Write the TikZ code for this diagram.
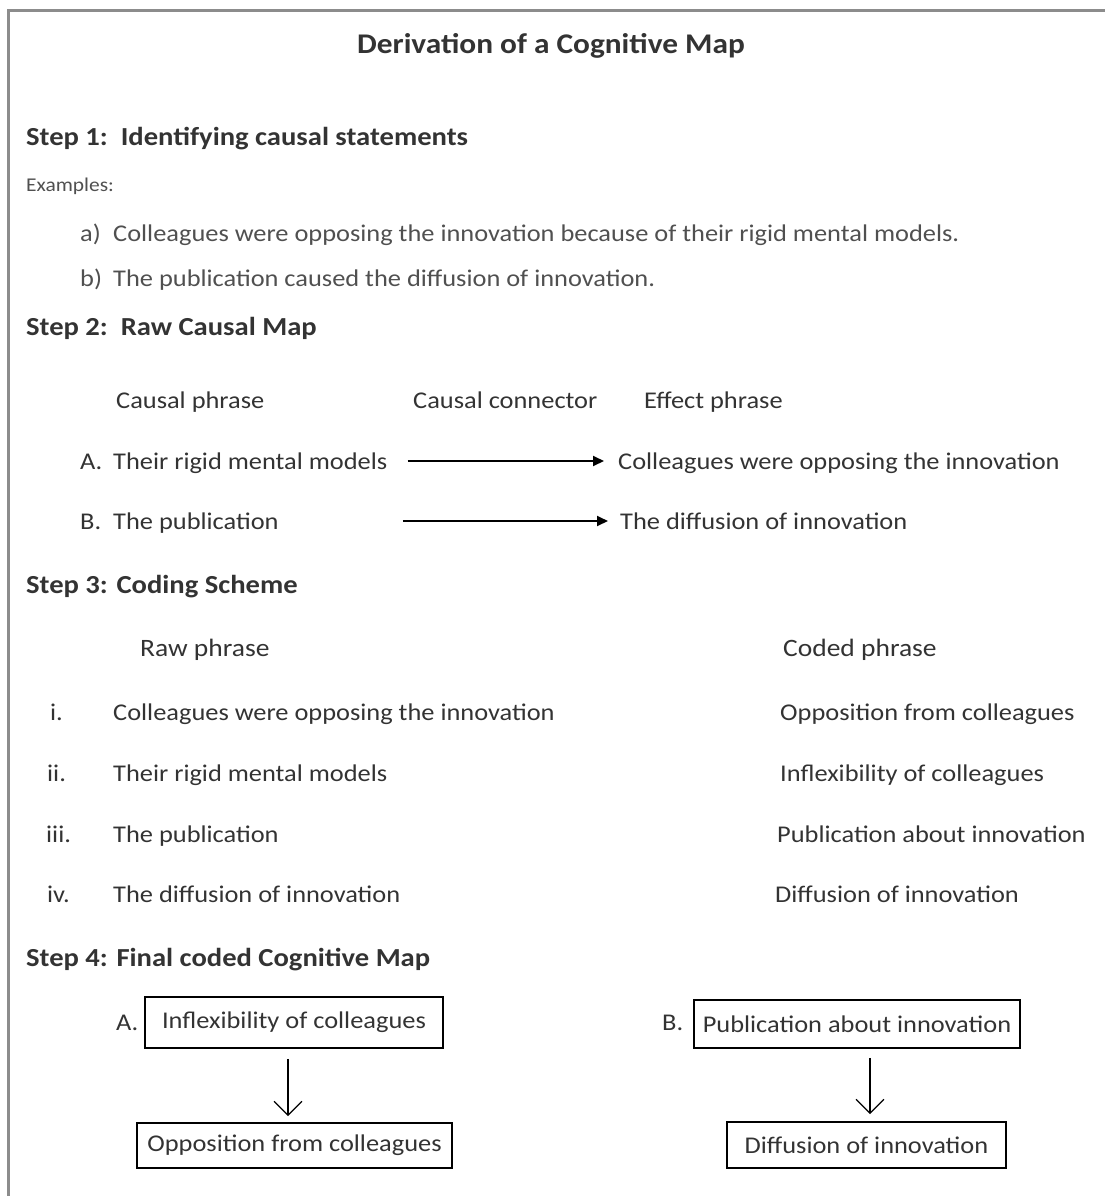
\documentclass[tikz,border=0pt]{standalone}
\usepackage{fontspec}
\setmainfont{Carlito}[FakeStretch=1.1]
\usetikzlibrary{arrows.meta,calc}

\definecolor{inkgray}{HTML}{333333}
\definecolor{softgray}{HTML}{505050}
\definecolor{framegray}{HTML}{8C8C8C}

\tikzset{
  body/.style={anchor=base west, inner sep=0pt, text=inkgray,
    font=\fontsize{24}{28}\selectfont},
  soft/.style={body, text=softgray},
  small/.style={soft, font=\fontsize{19.5}{22}\selectfont},
  heading/.style={anchor=base west, inner sep=0pt, text=inkgray,
    font=\fontsize{26}{30}\selectfont\bfseries},
  colhead/.style={body, font=\fontsize{25}{29}\selectfont},
  codebox/.style={draw=black, line width=1.6pt, inner sep=0pt, text=inkgray,
    font=\fontsize{24}{28}\selectfont, align=center},
  linkarrow/.style={-{Triangle[length=11pt,width=10pt]}, line width=1.8pt, black},
  downarrow/.style={-{Straight Barb[length=14pt,width=28pt,line width=1.3pt]},
    line width=1.3pt, black}
}

\begin{document}
\begin{tikzpicture}[x=1pt,y=-1pt]
\useasboundingbox (0,0) rectangle (1105,1196);

% outer frame (top and left edges)
\coordinate (frTR) at (1105,11);
\coordinate (frTL) at (8,11);
\coordinate (frBL) at (8,1196);
\draw[framegray, line width=3pt] (frTR) -- (frTL) -- (frBL);

% title
\node[anchor=base, inner sep=0pt, text=inkgray,
  font=\fontsize{28.5}{32}\selectfont\bfseries] (title) at (551,54)
  {Derivation of a Cognitive Map};

% step 1
\node[heading] (s1) at (26,146) {Step 1:\ \ Identifying causal statements};
\node[small] (ex) at (26,191) {Examples:};
\node[soft] (exa) at (80,241) {a)};
\node[soft] (exat) at (113,241) {Colleagues were opposing the innovation because of their rigid mental models.};
\node[soft] (exb) at (80,286) {b)};
\node[soft] (exbt) at (113,286) {The publication caused the diffusion of innovation.};

% step 2
\node[heading] (s2) at (26,335) {Step 2:\ \ Raw Causal Map};
\node[body] (h1) at (116,408) {Causal phrase};
\node[body] (h2) at (413,408) {Causal connector};
\node[body] (h3) at (644,408) {Effect phrase};

\node[body] (rA) at (80,469) {A.};
\node[body] (cA) at (113,469) {Their rigid mental models};
\node[body] (eA) at (618,469) {Colleagues were opposing the innovation};
\node[body] (rB) at (80,529) {B.};
\node[body] (cB) at (113,529) {The publication};
\node[body] (eB) at (620,529) {The diffusion of innovation};

\draw[linkarrow, shorten <=20pt, shorten >=14pt]
  ([yshift=8pt]cA.base east) -- ([yshift=8pt]eA.base west);
\draw[linkarrow, shorten >=12pt]
  ([xshift=124pt,yshift=8pt]cB.base east) -- ([yshift=8pt]eB.base west);

% step 3
\node[heading] (s3) at (26,593) {Step 3: Coding Scheme};
\node[colhead] (rawh) at (140,656) {Raw phrase};
\node[colhead] (codh) at (783,656) {Coded phrase};

\node[body] (n1) at (50,720) {i.};
\node[body] (r1) at (113,720) {Colleagues were opposing the innovation};
\node[body] (k1) at (780,720) {Opposition from colleagues};
\node[body] (n2) at (47,781) {ii.};
\node[body] (r2) at (113,781) {Their rigid mental models};
\node[body] (k2) at (780,781) {Inflexibility of colleagues};
\node[body] (n3) at (46,842) {iii.};
\node[body] (r3) at (113,842) {The publication};
\node[body] (k3) at (777,842) {Publication about innovation};
\node[body] (n4) at (47,902) {iv.};
\node[body] (r4) at (113,902) {The diffusion of innovation};
\node[body] (k4) at (775,902) {Diffusion of innovation};

% step 4
\node[heading] (s4) at (26,966) {Step 4: Final coded Cognitive Map};

\node[body] (mA) at (116,1030) {A.};
\node[codebox, minimum width=298pt, minimum height=51pt] (bA) at (294,1022.5)
  {Inflexibility of colleagues};
\node[codebox, minimum width=315pt, minimum height=45pt] (bA2) at (294.5,1145.5)
  {Opposition from colleagues};

\node[body] (mB) at (662,1030) {B.};
\node[codebox, minimum width=326pt, minimum height=48pt] (bB) at (857,1024)
  {Publication about innovation};
\node[codebox, minimum width=279pt, minimum height=46pt] (bB2) at (866.5,1145)
  {Diffusion of innovation};

\draw[downarrow, shorten <=10pt, shorten >=6pt]
  ([xshift=-6pt]bA.south) -- ([xshift=-6.5pt]bA2.north);
\draw[downarrow, shorten <=9pt, shorten >=7pt]
  ([xshift=13pt]bB.south) -- ([xshift=3.5pt]bB2.north);
\end{tikzpicture}
\end{document}
